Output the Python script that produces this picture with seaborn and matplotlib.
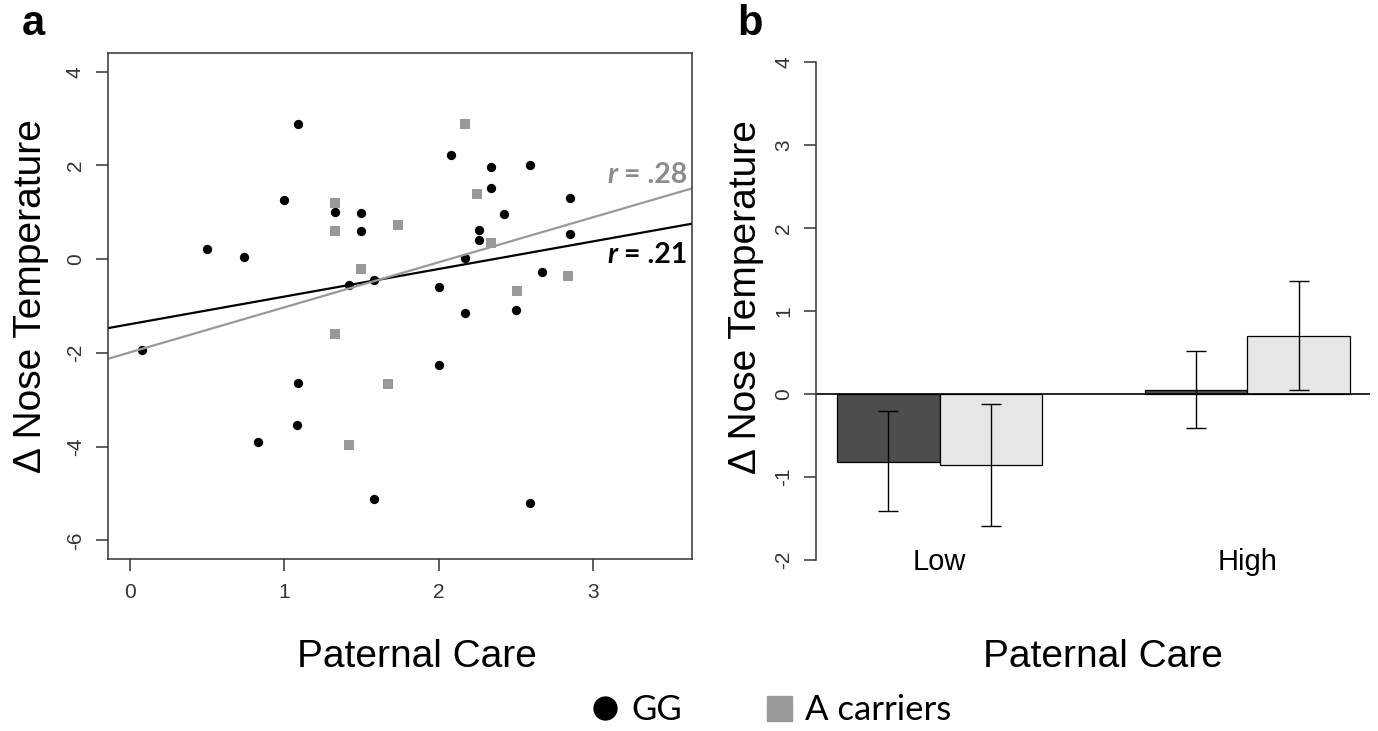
import pandas as pd
import seaborn as sns
import matplotlib.pyplot as plt
from matplotlib.lines import Line2D

sns.set_theme(style='ticks')
plt.rcParams['font.family'] = ['Liberation Sans', 'DejaVu Sans']
plt.rcParams['axes.unicode_minus'] = False
plt.rcParams['text.color'] = 'black'

# panel a: paternal care vs change in nose temperature
gg_care = [0.08, 0.50, 0.74, 0.83, 1.00, 1.09, 1.09, 1.08, 1.33, 1.50,
           1.50, 1.42, 1.58, 1.58, 2.00, 2.00, 2.08, 2.17, 2.17, 2.26,
           2.26, 2.34, 2.34, 2.42, 2.50, 2.59, 2.59, 2.67, 2.85, 2.85]
gg_temp = [-1.93, 0.21, 0.04, -3.90, 1.27, 2.88, -2.65, -3.55, 1.01, 0.98,
           0.60, -0.56, -0.45, -5.13, -0.60, -2.27, 2.23, -1.16, 0.02, 0.62,
           0.41, 1.97, 1.52, 0.96, -1.09, 2.02, -5.21, -0.28, 1.31, 0.54]
a_care = [1.33, 1.33, 1.33, 1.42, 1.50, 1.67, 1.74, 2.17, 2.25, 2.34, 2.51, 2.84]
a_temp = [1.20, 0.60, -1.59, -3.97, -0.21, -2.66, 0.73, 2.88, 1.39, 0.34, -0.67, -0.36]
r_gg = '.21'
r_a = '.28'

# panel b: group means with error bar bounds
care_levels = ['Low', 'High']
genotypes = ['GG', 'A carriers']
gg_mean = [-0.82, 0.05]
gg_lo = [-1.41, -0.41]
gg_hi = [-0.20, 0.52]
a_mean = [-0.85, 0.70]
a_lo = [-1.59, 0.05]
a_hi = [-0.12, 1.36]

GREY = '#999999'
DARK = '#4d4d4d'
LIGHT = '#e6e6e6'
AXC = '#333333'
ylab = '\u0394 Nose Temperature'

fig = plt.figure(figsize=(13.78, 7.31), dpi=100)
ax1 = fig.add_axes([0.0784, 0.2353, 0.4238, 0.6922])
ax2 = fig.add_axes([0.5925, 0.2066, 0.402, 0.736])

# ---- panel a
gg = pd.DataFrame({'care': gg_care, 'temp': gg_temp})
ac = pd.DataFrame({'care': a_care, 'temp': a_temp})

ax1.set_xlim(-0.14, 3.64)
ax1.set_ylim(-6.4, 4.4)
sns.scatterplot(data=gg, x='care', y='temp', color='black', marker='o', s=45,
                linewidth=0, ax=ax1, legend=False)
sns.scatterplot(data=ac, x='care', y='temp', color=GREY, marker='s', s=55,
                linewidth=0, ax=ax1, legend=False)
sns.regplot(data=gg, x='care', y='temp', scatter=False, ci=None, truncate=False,
            color='black', line_kws={'lw': 1.6}, ax=ax1)
sns.regplot(data=ac, x='care', y='temp', scatter=False, ci=None, truncate=False,
            color=GREY, line_kws={'lw': 1.6}, ax=ax1)
ax1.set_xlim(-0.14, 3.64)
ax1.set_ylim(-6.4, 4.4)

for val, col, y in [(r_a, '#8c8c8c', 1.62), (r_gg, 'black', -0.085)]:
    t = ax1.text(3.61, y, ' = ' + val, ha='right', va='baseline', color=col,
                 fontsize=20.5, fontweight='bold', family='Lato')
    ax1.annotate('r', xy=(0, 0), xycoords=t, ha='right', va='bottom', color=col,
                 fontsize=20.5, fontweight='bold', fontstyle='italic', family='Lato')

ax1.set_xticks([0, 1, 2, 3])
ax1.set_yticks([-6, -4, -2, 0, 2, 4])
for s in ax1.spines.values():
    s.set_visible(True)
    s.set_color(AXC)
    s.set_linewidth(1.1)

# ---- panel b
bars = pd.DataFrame({
    'care': care_levels * 2,
    'geno': [genotypes[0]] * 2 + [genotypes[1]] * 2,
    'mean': gg_mean + a_mean,
    'lo': gg_lo + a_lo,
    'hi': gg_hi + a_hi,
})
sns.barplot(data=bars, x='care', y='mean', hue='geno', order=care_levels,
            hue_order=genotypes, palette={'GG': DARK, 'A carriers': LIGHT},
            width=0.667, saturation=1, edgecolor='black', linewidth=0.9,
            errorbar=None, legend=False, ax=ax2)

# error bars at bar centres, in the same order the bars were drawn
centres = [p.get_x() + p.get_width() / 2 for p in ax2.patches]
ax2.errorbar(centres, bars['mean'],
             yerr=[bars['mean'] - bars['lo'], bars['hi'] - bars['mean']],
             fmt='none', ecolor='black', elinewidth=1.0, capsize=7.5, capthick=1.0)
ax2.axhline(0, color='black', lw=1.2)
ax2.set_xlim(-0.4, 1.4)
ax2.set_ylim(-2.24, 4.24)
ax2.set_yticks(range(-2, 5))
for side in ['top', 'right', 'bottom']:
    ax2.spines[side].set_visible(False)
ax2.spines['left'].set_bounds(-2, 4)
ax2.spines['left'].set_color(AXC)
ax2.spines['left'].set_linewidth(1.1)
ax2.tick_params(axis='x', length=0, labelsize=21, pad=-23, labelcolor='black')

# ---- shared axis styling
for ax in (ax1, ax2):
    ax.tick_params(axis='y', length=8.6, width=1.1, color=AXC, labelsize=15,
                   labelcolor='#333333', pad=8)
    plt.setp(ax.get_yticklabels(), rotation=90, va='center')
    ax.set_ylabel(ylab, fontsize=28, color='black')
    ax.set_xlabel('Paternal Care', fontsize=28, color='black')
    ax.yaxis.label.set_va('center')
    ax.xaxis.label.set_va('center')
ax1.tick_params(axis='x', length=8.6, width=1.1, color=AXC, labelsize=15,
                labelcolor='#333333', pad=9)

ax1.yaxis.set_label_coords(-0.132, 0.52)
ax1.xaxis.set_label_coords(0.529, -0.194)
ax2.yaxis.set_label_coords(-0.128, 0.526)
ax2.xaxis.set_label_coords(0.517, -0.143)

fig.text(33 / 1378, 1 - 35 / 731, 'a', fontsize=30, fontweight='bold', ha='center',
         va='baseline', color='black')
fig.text(750 / 1378, 1 - 35 / 731, 'b', fontsize=30, fontweight='bold', ha='center',
         va='baseline', color='black')

handles = [Line2D([], [], marker='o', ls='none', color='black', markersize=16.5),
           Line2D([], [], marker='s', ls='none', color=GREY, markersize=18)]
fig.legend(handles, genotypes, loc='center', bbox_to_anchor=(0.5585, 0.0287),
           ncol=2, frameon=False, prop={'family': 'Lato', 'size': 25},
           handlelength=1.0, handletextpad=0.25, columnspacing=2.3)

fig.savefig('out.png', dpi=100)
